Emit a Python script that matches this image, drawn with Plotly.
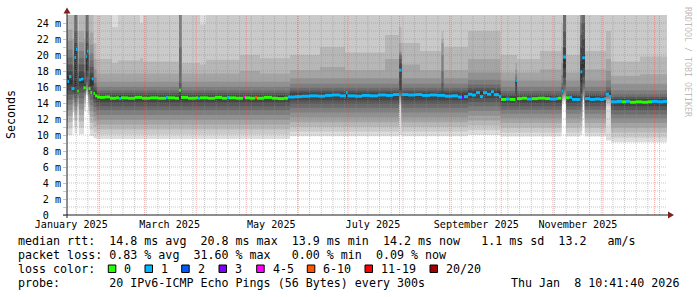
import plotly.graph_objects as go
import pandas as pd

START = "2025-01-13 10:41:40"
END = "2026-01-08 10:41:40"
MONO = "DejaVu Sans Mono"

# ---------------- smoke: 20 sorted ping values (ms) per breakpoint ----------------
smoke_t = [
    "2025-01-13 00:00", "2025-01-16 18:00", "2025-01-17 23:00", "2025-01-19 14:00", "2025-01-20 13:00",
    "2025-01-23 16:00", "2025-01-24 18:00", "2025-01-26 06:00", "2025-01-27 03:00", "2025-01-29 08:00",
    "2025-01-31 04:00", "2025-02-09 11:00", "2025-02-13 01:00", "2025-02-26 06:00", "2025-02-28 01:00",
    "2025-03-21 16:00", "2025-03-23 04:00", "2025-04-03 06:00", "2025-04-06 20:00", "2025-04-27 06:00",
    "2025-05-09 06:00", "2025-05-27 06:00", "2025-06-14 06:00", "2025-06-29 06:00", "2025-07-23 06:00",
    "2025-07-31 16:00", "2025-08-02 04:00", "2025-08-13 06:00", "2025-08-26 04:00", "2025-08-27 08:00",
    "2025-09-11 01:00", "2025-09-30 13:00", "2025-10-09 13:00", "2025-10-10 11:00", "2025-10-24 06:00",
    "2025-11-06 04:00", "2025-11-07 04:00", "2025-11-08 20:00", "2025-11-17 13:00", "2025-11-18 14:00",
    "2025-11-20 03:00", "2025-12-02 20:00", "2025-12-05 20:00", "2025-12-23 06:00", "2026-01-09 00:00",
]
ping01 = [10.0, 12.8, 10.2, 13.5, 10.1, 13.0, 15.0, 12.5, 9.9, 9.6,
          9.5, 9.5, 9.5, 9.5, 9.5, 9.5, 9.5, 9.5, 9.5, 9.5, 9.5,
          9.85, 9.85, 9.85, 9.85, 10.0, 9.85, 9.85, 9.85, 9.85, 10.0,
          9.8, 9.8, 9.8, 9.8, 13.8, 14.2, 9.8, 10.0, 14.3, 9.8,
          9.3, 9.1, 9.1, 9.1]
ping02 = [10.8, 13.2, 11.0, 13.8, 10.9, 13.5, 15.2, 13.0, 10.7, 10.3,
          10.1, 10.1, 10.1, 10.1, 10.1, 10.1, 10.1, 10.1, 10.1, 10.1, 10.1,
          10.4, 10.4, 10.4, 10.4, 13.8, 10.4, 10.4, 10.4, 10.4, 10.6,
          10.3, 10.3, 10.3, 10.3, 14.1, 14.4, 10.3, 10.5, 14.5, 10.3,
          13.6, 9.7, 9.7, 9.7]
ping03 = [11.6, 13.6, 11.8, 14.1, 11.7, 14.0, 15.4, 13.5, 11.5, 11.0,
          10.7, 10.7, 10.7, 10.7, 10.7, 10.7, 10.7, 10.7, 10.7, 10.7, 10.7,
          11.0, 11.0, 11.0, 11.0, 14.1, 11.0, 11.0, 11.0, 11.0, 11.2,
          10.9, 10.9, 10.9, 10.9, 14.3, 14.6, 10.9, 11.1, 14.7, 10.9,
          14.0, 10.3, 10.3, 10.3]
ping04 = [12.4, 14.0, 12.5, 14.4, 12.5, 14.4, 15.6, 14.0, 12.3, 11.7,
          11.3, 11.3, 11.3, 11.3, 11.3, 11.3, 11.3, 11.3, 11.3, 11.3, 11.3,
          11.6, 11.6, 11.6, 11.6, 14.4, 11.6, 11.6, 11.6, 11.6, 11.8,
          11.5, 11.5, 11.5, 11.5, 14.5, 14.8, 11.5, 11.7, 14.9, 11.5,
          14.3, 10.9, 10.9, 10.9]
ping05 = [13.1, 14.4, 13.1, 14.7, 13.2, 14.8, 15.8, 14.4, 13.0, 12.3,
          11.9, 11.9, 11.9, 11.9, 11.9, 11.9, 11.9, 11.9, 11.9, 11.9, 11.9,
          12.2, 12.2, 12.2, 12.2, 14.7, 12.2, 12.2, 12.2, 12.2, 12.4,
          12.1, 12.1, 12.1, 12.1, 14.7, 15.0, 12.1, 12.3, 15.1, 12.1,
          14.5, 11.5, 11.5, 11.5]
ping06 = [13.8, 14.7, 13.6, 14.9, 13.9, 15.1, 16.0, 14.8, 13.7, 12.9,
          12.5, 12.5, 12.5, 12.5, 12.5, 12.5, 12.5, 12.5, 12.5, 12.5, 12.5,
          12.8, 12.8, 12.8, 12.8, 14.9, 12.8, 12.8, 12.8, 12.8, 13.0,
          12.65, 12.65, 12.65, 12.65, 14.9, 15.3, 12.65, 12.9, 15.4, 12.65,
          14.7, 12.1, 12.1, 12.1]
ping07 = [14.4, 15.0, 14.1, 15.1, 14.6, 15.3, 16.3, 15.1, 14.4, 13.5,
          13.1, 13.1, 13.1, 13.1, 13.1, 13.1, 13.1, 13.1, 13.1, 13.1, 13.1,
          13.4, 13.4, 13.4, 13.4, 15.1, 13.4, 13.4, 13.4, 13.4, 13.6,
          13.15, 13.15, 13.15, 13.15, 15.05, 15.7, 13.15, 13.5, 15.8, 13.15,
          14.85, 12.6, 12.6, 12.6]
ping08 = [15.0, 15.2, 14.6, 15.2, 15.3, 15.5, 16.7, 15.3, 15.0, 14.0,
          13.6, 13.6, 13.6, 13.6, 13.6, 13.6, 13.6, 13.6, 13.6, 13.6, 13.6,
          13.9, 13.9, 13.9, 13.9, 15.3, 13.9, 13.9, 13.9, 13.9, 14.1,
          13.6, 13.6, 13.6, 13.6, 15.2, 16.3, 13.6, 14.2, 16.4, 13.6,
          14.95, 13.1, 13.1, 13.1]
ping09 = [15.6, 15.4, 15.2, 15.3, 15.9, 15.7, 17.3, 15.5, 15.6, 14.5,
          14.05, 14.05, 14.05, 14.05, 14.05, 14.05, 14.05, 14.05, 14.05, 14.05, 14.05,
          14.35, 14.35, 14.35, 14.35, 15.6, 14.35, 14.35, 14.35, 14.35, 14.6,
          14.0, 14.3, 14.0, 14.0, 15.35, 17.2, 14.0, 15.2, 17.3, 14.0,
          15.0, 13.6, 13.6, 13.6]
ping10 = [16.3, 15.6, 16.0, 15.4, 16.5, 15.8, 18.0, 15.7, 16.2, 14.9,
          14.5, 14.5, 14.5, 14.5, 14.5, 14.5, 14.5, 14.5, 14.5, 14.5, 14.5,
          14.8, 14.8, 14.8, 14.8, 17.8, 14.8, 14.8, 14.8, 14.8, 15.05,
          14.4, 16.5, 14.4, 14.4, 15.45, 18.4, 14.4, 16.6, 18.4, 14.4,
          15.05, 14.0, 14.0, 14.0]
ping11 = [17.3, 15.8, 20.5, 15.6, 17.3, 16.0, 20.0, 15.9, 17.0, 15.3,
          14.8, 14.8, 14.8, 14.8, 14.8, 15.0, 14.8, 14.8, 14.8, 14.8, 14.8,
          15.1, 15.1, 15.1, 15.1, 18.2, 15.1, 15.1, 15.1, 15.1, 15.35,
          14.7, 16.8, 14.7, 14.7, 15.55, 19.5, 14.7, 19.2, 20.0, 14.7,
          15.15, 14.3, 14.3, 14.3]
ping12 = [18.0, 16.2, 21.5, 15.9, 18.0, 16.4, 21.5, 16.3, 17.7, 15.6,
          15.0, 15.0, 15.0, 15.0, 15.0, 15.6, 15.0, 15.0, 15.0, 15.0, 15.0,
          15.3, 15.3, 15.3, 15.3, 19.0, 15.3, 15.3, 15.5, 15.3, 15.6,
          14.9, 16.9, 14.9, 14.9, 15.7, 21.0, 14.9, 21.0, 22.0, 14.9,
          15.3, 14.5, 14.5, 14.5]
ping13 = [18.8, 16.8, 23.0, 16.4, 18.8, 17.0, 23.0, 16.9, 18.5, 16.0,
          15.25, 15.25, 15.25, 15.25, 15.25, 16.5, 15.25, 15.25, 15.25, 15.25, 15.25,
          15.55, 15.55, 15.55, 15.55, 19.5, 15.55, 15.55, 16.5, 15.55, 15.9,
          15.15, 17.0, 15.15, 15.15, 16.0, 23.0, 15.15, 22.5, 24.0, 15.15,
          15.6, 14.75, 14.75, 14.75]
ping14 = [19.7, 17.6, 26.0, 17.0, 19.6, 17.8, 26.0, 17.7, 19.3, 16.5,
          15.55, 15.55, 15.55, 15.55, 15.55, 21.0, 15.55, 15.55, 15.55, 15.55, 15.55,
          15.9, 15.9, 15.9, 15.9, 20.0, 15.9, 15.9, 18.0, 15.9, 16.3,
          15.5, 17.2, 15.5, 15.5, 16.5, 26.0, 15.5, 24.0, 26.0, 15.5,
          16.0, 15.1, 15.1, 15.1]
ping15 = [20.7, 18.6, 27.0, 17.8, 20.5, 18.8, 27.0, 18.7, 20.2, 17.2,
          16.0, 16.0, 16.0, 16.0, 16.0, 26.0, 16.0, 16.0, 16.0, 16.0, 16.0,
          16.4, 16.4, 16.4, 16.4, 20.2, 16.4, 16.4, 20.0, 16.4, 16.9,
          16.0, 17.6, 16.0, 16.0, 17.5, 27.0, 16.0, 25.5, 26.5, 16.0,
          16.8, 15.6, 15.6, 15.6]
ping16 = [21.8, 20.0, 27.5, 19.0, 21.6, 20.0, 27.5, 20.0, 21.3, 18.2,
          16.7, 16.7, 16.7, 16.7, 16.7, 27.0, 16.7, 16.7, 16.7, 16.7, 16.7,
          17.1, 17.1, 17.1, 17.1, 20.4, 17.1, 17.1, 21.5, 17.1, 17.8,
          16.8, 18.2, 16.8, 16.8, 19.0, 27.5, 16.8, 26.0, 27.0, 16.8,
          18.0, 16.4, 16.4, 16.4]
ping17 = [23.2, 22.0, 28.0, 20.5, 23.0, 22.0, 28.0, 22.0, 22.8, 19.5,
          17.7, 17.7, 17.7, 17.7, 17.7, 28.0, 17.7, 17.7, 17.7, 18.0, 17.7,
          18.1, 18.5, 18.1, 19.5, 21.5, 18.8, 18.1, 22.0, 18.1, 19.5,
          17.8, 19.0, 17.8, 18.2, 21.0, 28.0, 17.8, 27.0, 27.5, 18.2,
          19.5, 17.4, 17.6, 17.6]
ping18 = [26.0, 25.5, 28.5, 23.0, 25.5, 25.0, 28.5, 25.0, 25.5, 21.5,
          19.5, 19.0, 19.3, 19.6, 19.2, 29.0, 19.0, 18.8, 19.4, 20.0, 19.6,
          20.0, 21.0, 20.3, 22.5, 23.5, 21.5, 20.5, 23.0, 21.0, 23.0,
          20.0, 20.0, 19.5, 20.5, 24.0, 28.5, 20.0, 28.0, 28.0, 20.5,
          23.0, 19.2, 19.8, 19.8]
ping19 = [28.0, 28.0, 29.0, 27.0, 28.0, 28.0, 29.0, 28.0, 28.0, 27.0,
          26.0, 23.5, 26.0, 24.0, 26.0, 29.5, 26.0, 23.8, 26.0, 26.0, 26.0,
          26.0, 26.0, 26.0, 26.0, 26.0, 26.0, 26.0, 26.0, 26.0, 26.0,
          26.0, 26.0, 26.0, 26.0, 26.0, 29.0, 26.0, 29.0, 29.0, 26.0,
          26.0, 26.0, 26.0, 26.0]
ping20 = [30.0, 30.0, 30.0, 30.0, 30.0, 30.0, 30.0, 30.0, 30.0, 30.0,
          30.0, 30.0, 30.0, 30.0, 30.0, 30.0, 30.0, 30.0, 30.0, 30.0, 30.0,
          30.0, 30.0, 30.0, 30.0, 30.0, 30.0, 30.0, 30.0, 30.0, 30.0,
          30.0, 30.0, 30.0, 30.0, 30.0, 30.0, 30.0, 30.0, 30.0, 30.0,
          30.0, 30.0, 30.0, 30.0]

# ---------------- median rtt (ms) and lost pings per step ----------------
median_t = [
    "2025-01-13 00:00", "2025-01-14 15:00", "2025-01-16 03:00", "2025-01-17 23:00", "2025-01-18 20:00",
    "2025-01-19 14:00", "2025-01-20 13:00", "2025-01-21 20:00", "2025-01-23 08:00", "2025-01-24 17:00",
    "2025-01-25 11:00", "2025-01-26 08:00", "2025-01-27 13:00", "2025-01-28 11:00", "2025-01-29 08:00",
    "2025-01-30 06:00", "2025-01-31 11:00", "2025-02-02 06:00", "2025-02-05 06:00", "2025-02-08 06:00",
    "2025-02-11 20:00", "2025-02-13 15:00", "2025-02-14 20:00", "2025-02-19 01:00", "2025-02-23 06:00",
    "2025-02-27 11:00", "2025-03-04 06:00", "2025-03-09 01:00", "2025-03-13 20:00", "2025-03-15 01:00",
    "2025-03-19 06:00", "2025-03-21 16:00", "2025-03-22 20:00", "2025-03-27 01:00", "2025-03-31 20:00",
    "2025-04-02 01:00", "2025-04-03 06:00", "2025-04-08 01:00", "2025-04-12 06:00", "2025-04-16 11:00",
    "2025-04-19 11:00", "2025-04-20 15:00", "2025-04-24 20:00", "2025-04-29 01:00", "2025-04-30 06:00",
    "2025-05-03 06:00", "2025-05-06 06:00", "2025-05-07 11:00", "2025-05-11 15:00", "2025-05-16 11:00",
    "2025-05-20 01:00", "2025-05-23 15:00", "2025-05-26 01:00", "2025-05-30 06:00", "2025-06-03 11:00",
    "2025-06-08 06:00", "2025-06-13 01:00", "2025-06-17 06:00", "2025-06-21 11:00", "2025-06-26 06:00",
    "2025-06-29 20:00", "2025-06-30 18:00", "2025-07-05 06:00", "2025-07-09 11:00", "2025-07-14 06:00",
    "2025-07-19 01:00", "2025-07-23 20:00", "2025-07-28 01:00", "2025-07-31 16:00", "2025-08-02 04:00",
    "2025-08-06 01:00", "2025-08-10 06:00", "2025-08-14 11:00", "2025-08-19 06:00", "2025-08-23 11:00",
    "2025-08-28 06:00", "2025-09-01 11:00", "2025-09-05 01:00", "2025-09-07 11:00", "2025-09-08 15:00",
    "2025-09-11 01:00", "2025-09-13 11:00", "2025-09-15 20:00", "2025-09-18 06:00", "2025-09-20 01:00",
    "2025-09-22 11:00", "2025-09-24 20:00", "2025-09-26 15:00", "2025-09-29 15:00", "2025-09-30 20:00",
    "2025-10-03 20:00", "2025-10-06 06:00", "2025-10-09 13:00", "2025-10-10 11:00", "2025-10-13 11:00",
    "2025-10-16 11:00", "2025-10-19 11:00", "2025-10-23 01:00", "2025-10-27 06:00", "2025-10-30 06:00",
    "2025-11-02 20:00", "2025-11-04 01:00", "2025-11-06 04:00", "2025-11-07 04:00", "2025-11-08 20:00",
    "2025-11-10 15:00", "2025-11-12 11:00", "2025-11-16 01:00", "2025-11-17 13:00", "2025-11-18 14:00",
    "2025-11-20 03:00", "2025-11-23 06:00", "2025-11-26 06:00", "2025-11-29 06:00", "2025-12-01 15:00",
    "2025-12-02 20:00", "2025-12-04 15:00", "2025-12-05 20:00", "2025-12-09 11:00", "2025-12-12 11:00",
    "2025-12-14 20:00", "2025-12-17 06:00", "2025-12-20 20:00", "2025-12-24 11:00", "2025-12-28 01:00",
    "2025-12-30 11:00", "2026-01-03 01:00", "2026-01-06 01:00",
]
median_ms = [
    16.7, 17.3, 15.8, 19.7, 20.7, 15.5, 16.9, 17.0, 15.9, 19.8,
    20.5, 15.8, 15.3, 17.0, 15.2, 14.9, 14.75, 14.7, 14.75, 14.6,
    14.65, 14.55, 14.65, 14.6, 14.7, 14.6, 14.65, 14.6, 14.7, 14.65,
    14.6, 15.6, 14.7, 14.6, 14.65, 14.6, 14.65, 14.6, 14.7, 14.6,
    14.7, 14.65, 14.6, 14.75, 14.65, 14.6, 14.7, 14.6, 14.7, 14.6,
    14.55, 14.6, 14.75, 14.8, 14.85, 14.9, 14.85, 14.95, 15.0, 14.9,
    15.3, 14.9, 14.85, 14.95, 14.9, 15.0, 14.95, 15.05, 18.1, 15.05,
    15.0, 15.05, 14.95, 15.0, 14.95, 14.85, 14.9, 14.75, 14.65, 14.8,
    15.1, 15.0, 15.3, 14.8, 15.3, 15.1, 15.4, 15.05, 14.8, 14.45,
    14.5, 14.45, 16.8, 14.55, 14.6, 14.5, 14.55, 14.6, 14.55, 14.5,
    14.55, 14.6, 15.5, 19.75, 14.65, 14.7, 14.45, 14.45, 17.9, 19.65,
    14.55, 14.45, 14.5, 14.45, 14.55, 15.1, 14.8, 14.15, 14.2, 14.15,
    14.2, 14.1, 14.15, 14.1, 14.15, 14.2, 14.15, 14.2,
]
median_loss = [
    1, 1, 1, 1, 1, 0, 1, 1, 0, 1,
    1, 0, 0, 1, 0, 0, 0, 0, 0, 0,
    0, 1, 0, 0, 0, 0, 0, 0, 1, 0,
    0, 0, 0, 0, 0, 1, 0, 0, 0, 0,
    1, 0, 0, 4, 0, 0, 6, 0, 0, 0,
    0, 0, 1, 1, 1, 1, 1, 1, 1, 1,
    1, 1, 1, 1, 1, 1, 1, 1, 1, 1,
    1, 1, 1, 1, 1, 1, 1, 1, 3, 1,
    1, 1, 1, 1, 1, 1, 1, 1, 1, 0,
    1, 0, 1, 0, 0, 1, 0, 0, 0, 1,
    1, 0, 1, 1, 0, 1, 1, 1, 1, 1,
    1, 1, 1, 1, 1, 1, 1, 1, 1, 0,
    1, 0, 0, 0, 0, 1, 1, 1,
]

loss_labels = ["0", "1", "2", "3", "4-5", "6-10", "11-19", "20/20"]
loss_colors = ["#26ff00", "#00b8ff", "#0059ff", "#7e00ff", "#ff00ff", "#ff5500", "#ff0000", "#a10000"]
loss_upper = [0, 1, 2, 3, 5, 10, 19, 20]

y_tick_vals = [0, 2, 4, 6, 8, 10, 12, 14, 16, 18, 20, 22, 24]
y_tick_text = ["0\u00a0\u00a0", "2 m", "4 m", "6 m", "8 m", "10 m", "12 m", "14 m",
               "16 m", "18 m", "20 m", "22 m", "24 m"]
x_tick_vals = ["2025-01-16", "2025-03-16", "2025-05-16", "2025-07-16", "2025-09-16", "2025-11-16"]
x_tick_text = ["January 2025", "March 2025", "May 2025", "July 2025", "September 2025", "November 2025"]

line_rtt = "median rtt:  14.8 ms avg  20.8 ms max  13.9 ms min  14.2 ms now   1.1 ms sd  13.2   am/s"
line_loss = "packet loss: 0.83 % avg  31.60 % max   0.00 % min  0.09 % now"
line_color = "loss color:"
line_probe = "probe:       20 IPv6-ICMP Echo Pings (56 Bytes) every 300s"
stamp = "Thu Jan  8 10:41:40 2026"
watermark = "RRDTOOL / TOBI OETIKER"

# ---------------- figure ----------------
pings = [ping01, ping02, ping03, ping04, ping05, ping06, ping07, ping08, ping09, ping10,
         ping11, ping12, ping13, ping14, ping15, ping16, ping17, ping18, ping19, ping20]

fig = go.Figure()

# smoke bands (outer light -> inner dark), smokeping grey scale
for i in range(10):
    g = int(190 / 10 * (10 - (i + 1))) + 50
    fig.add_trace(go.Scatter(x=smoke_t, y=pings[i], mode="lines",
                             line=dict(width=0, shape="hv"), hoverinfo="skip", showlegend=False))
    fig.add_trace(go.Scatter(x=smoke_t, y=pings[19 - i], mode="lines",
                             line=dict(width=0, shape="hv"), fill="tonexty",
                             fillcolor=f"rgb({g},{g},{g})", hoverinfo="skip", showlegend=False))

# grid (drawn over the smoke, like rrdtool)
def vlines(days):
    xs, ys = [], []
    for d in days:
        xs += [d, d, None]
        ys += [0, 25, None]
    return xs, ys

def hlines(levels):
    xs, ys = [], []
    for v in levels:
        xs += [START, END, None]
        ys += [v, v, None]
    return xs, ys

minor_days = pd.date_range("2025-01-19", "2026-01-04", freq="7D")
major_days = pd.date_range("2025-02-01", "2026-01-01", freq="MS")
GRID = "rgba(143,143,143,0.5)"
MGRID = "rgba(222,79,79,0.45)"
for xs, ys, col in [
    (*vlines(minor_days), GRID),
    (*hlines(range(1, 25, 2)), GRID),
    (*vlines(major_days), MGRID),
    (*hlines(range(2, 25, 2)), MGRID),
]:
    fig.add_trace(go.Scatter(x=xs, y=ys, mode="lines", line=dict(color=col, width=1, dash="1px,1px"),
                             hoverinfo="skip", showlegend=False, connectgaps=False))

# median: short bars at the median value of each step, coloured by loss
def loss_cat(l):
    for k, up in enumerate(loss_upper):
        if l <= up:
            return k
    return len(loss_upper) - 1

cats = [loss_cat(l) for l in median_loss]
n = len(median_t)
for c, col in enumerate(loss_colors):
    xs, ys = [], []
    for i in range(n):
        if cats[i] != c:
            continue
        xs += [median_t[i], median_t[i + 1] if i < n - 1 else END, None]
        ys += [median_ms[i], median_ms[i], None]
    if xs:
        fig.add_trace(go.Scatter(x=xs, y=ys, mode="lines", line=dict(color=col, width=3),
                                 hoverinfo="skip", showlegend=False, connectgaps=False))

def px_x(p):
    return (p - 67) / 600.0

def px_y(p):
    return (215 - p) / 200.0

shapes = [
    dict(type="line", xref="paper", yref="paper", x0=0, x1=0, y0=px_y(218), y1=px_y(10),
         line=dict(color="rgb(31,31,31)", width=1)),
    dict(type="line", xref="paper", yref="paper", x0=px_x(63), x1=px_x(670), y0=0, y1=0,
         line=dict(color="rgb(31,31,31)", width=1)),
    dict(type="path", xref="paper", yref="paper",
         path=f"M {px_x(63.5)},{px_y(13.5)} L {px_x(67)},{px_y(7.5)} L {px_x(70.5)},{px_y(13.5)} Z",
         fillcolor="rgb(128,31,31)", line=dict(width=0)),
    dict(type="path", xref="paper", yref="paper",
         path=f"M {px_x(668)},{px_y(211.5)} L {px_x(674)},{px_y(215)} L {px_x(668)},{px_y(218.5)} Z",
         fillcolor="rgb(128,31,31)", line=dict(width=0)),
]

annotations = []
def text(x_px, y_px, s, size=11.66, anchor="left", color="#000"):
    annotations.append(dict(xref="paper", yref="paper", x=px_x(x_px), y=px_y(y_px),
                            text=s.replace(" ", "\u00a0"), showarrow=False, xanchor=anchor,
                            yanchor="middle", font=dict(family=MONO, size=size, color=color)))

text(16, 241, line_rtt)
text(16, 255, line_loss)
text(16, 269, line_color)
text(16, 283, line_probe)
text(681, 283, stamp, anchor="right")

box_left = [108.3, 145.0, 181.7, 219.0, 256.7, 307.3, 365.0, 430.0]
for bl, lab, col in zip(box_left, loss_labels, loss_colors):
    shapes.append(dict(type="rect", xref="paper", yref="paper", x0=px_x(bl), x1=px_x(bl + 7.5),
                       y0=px_y(272.5), y1=px_y(265), fillcolor=col, line=dict(color="#000", width=1)))
    text(bl + 13.8, 269, lab)

annotations.append(dict(xref="paper", yref="paper", x=px_x(11), y=0.5, text="Seconds", textangle=-90,
                        showarrow=False, xanchor="center", yanchor="middle",
                        font=dict(family=MONO, size=11.66, color="#000")))
annotations.append(dict(xref="paper", yref="paper", x=px_x(688), y=px_y(5), text=watermark.replace(" ", "\u00a0"),
                        textangle=90, showarrow=False, xanchor="center", yanchor="top",
                        font=dict(family=MONO, size=8.3, color="rgba(120,90,90,0.45)")))

fig.update_layout(
    width=697, height=297,
    margin=dict(l=67, r=30, t=15, b=82, pad=0),
    paper_bgcolor="white", plot_bgcolor="white", showlegend=False,
    font=dict(family=MONO, color="#000"),
    xaxis=dict(type="date", range=[START, END], showgrid=False, zeroline=False, showline=False,
               tickmode="array", tickvals=x_tick_vals, ticktext=x_tick_text, ticks="",
               ticklabelstandoff=2,
               tickfont=dict(family=MONO, size=10.1, color="#000"), fixedrange=True),
    yaxis=dict(range=[0, 25], showgrid=False, zeroline=False, showline=False,
               tickmode="array", tickvals=y_tick_vals, ticktext=y_tick_text,
               ticks="outside", ticklen=3, tickcolor=MGRID,
               minor=dict(tickvals=list(range(1, 25, 2)), ticks="outside", ticklen=3, tickcolor=GRID),
               tickfont=dict(family=MONO, size=10.1, color="#000"), fixedrange=True),
    shapes=shapes, annotations=annotations,
)

fig.write_html("out.html", config={"displayModeBar": False})
